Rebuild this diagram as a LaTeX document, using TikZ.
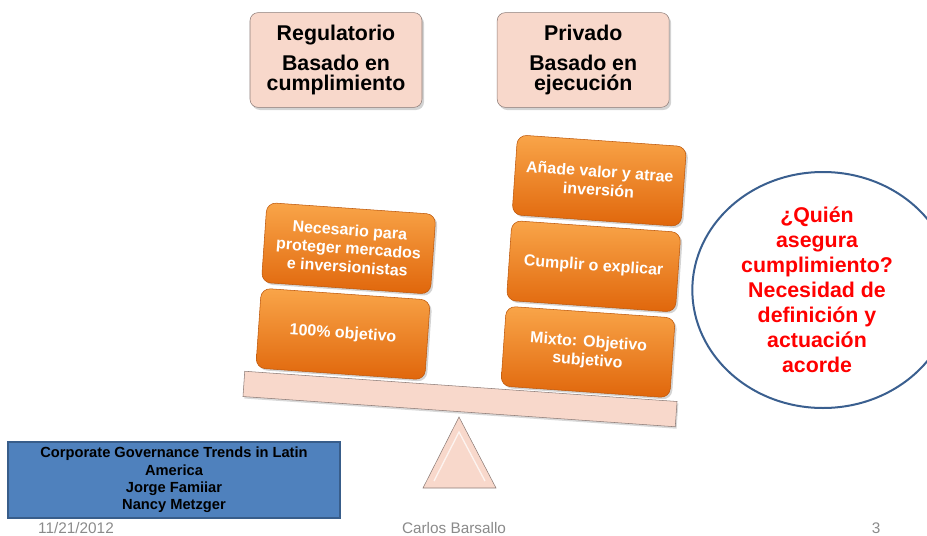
\documentclass[tikz,border=0pt]{standalone}
\usepackage{fontspec}
\setmainfont{Liberation Sans}
\usetikzlibrary{
  positioning,
  shapes.geometric,
  shadows
}

\definecolor{pinkbox}{HTML}{F8D8CB}
\definecolor{pinkedge}{HTML}{8C7B76}
\definecolor{orangetop}{HTML}{F9A549}
\definecolor{orangebot}{HTML}{E0660B}
\definecolor{govblue}{HTML}{4F81BD}
\definecolor{govedge}{HTML}{385D8A}
\definecolor{ringblue}{HTML}{3A5F8F}
\definecolor{footgray}{HTML}{8A8A8A}

\begin{document}
\begin{tikzpicture}[
  x=0.75pt, y=-0.75pt,
  node distance=4pt and 56pt,
  head/.style={draw=pinkedge, fill=pinkbox, rounded corners=6pt, minimum width=129pt, minimum height=71pt, align=center, font=\bfseries\fontsize{16}{15.5}\selectfont, drop shadow={shadow xshift=1.5pt, shadow yshift=-2pt, opacity=0.35}},
  block/.style={draw=orangebot!85!black, top color=orangetop, bottom color=orangebot, rounded corners=7pt, minimum width=127pt, minimum height=60pt, rotate=-4, align=center, text=white, font=\bfseries\fontsize{12}{13.8}\selectfont, drop shadow={shadow xshift=1.5pt, shadow yshift=-1.5pt, opacity=0.35}},
  beam/.style={draw=pinkedge, fill=pinkbox, minimum width=325pt, minimum height=19pt, rotate=-4, drop shadow={shadow xshift=1pt, shadow yshift=-1.5pt, opacity=0.3}},
  pivot/.style={draw=pinkedge, fill=pinkbox, line join=miter},
  ring/.style={draw=ringblue, line width=1.5pt, fill=white, ellipse, minimum width=196pt, minimum height=177pt},
  asks/.style={align=center, text=red, font=\bfseries\fontsize{16}{18.75}\selectfont},
  info/.style={draw=govedge, line width=1.2pt, fill=govblue, minimum width=249pt, minimum height=57pt, align=center, font=\bfseries\fontsize{11}{13.1}\selectfont},
  foot/.style={text=footgray, anchor=base, inner sep=0pt, font=\fontsize{11.5}{12}\selectfont}
]
\useasboundingbox (0,0) rectangle (927,535);
\clip (0,0) rectangle (927,535);

% Headers
\node[head] (reg) at (336,60) {Regulatorio\\[7pt]Basado en\\cumplimiento};
\node[head, right=of reg] (priv) {Privado\\[7pt]Basado en\\ejecuci\'on};

% Balance
\node[beam] (beam) at (460,399) {};
\draw[pivot] (423,488) -- (459,417) -- (496,488) -- cycle;
\draw[white, opacity=0.7, line width=1pt] (434,481) -- (459,432) -- (485,481);

% Left stack
\node[block] (obj) at (343,334) {100\% objetivo};
\node[block, above=of obj] (nec) {Necesario para\\proteger mercados\\e inversionistas};

% Right stack
\node[block] (mix) at (588,352) {Mixto: Objetivo\\subjetivo};
\node[block, above=of mix] (cump) {Cumplir o explicar};
\node[block, above=of cump] (val) {Añade valor y atrae\\inversión};

% Question
\node[ring] (ring) at (823,290) {};
\node[asks] (who) at (817,290) {¿Quién\\asegura\\cumplimiento?\\Necesidad de\\definición y\\actuación\\acorde};

% Footer
\node[info] (info) at (174,480) {Corporate Governance Trends in Latin\\America\\Jorge Famiiar\\Nancy Metzger};
\node[foot] (date) at (76,533) {11/21/2012};
\node[foot] (author) at (454,533) {Carlos Barsallo};
\node[foot] (page) at (876,533) {3};

\end{tikzpicture}
\end{document}
